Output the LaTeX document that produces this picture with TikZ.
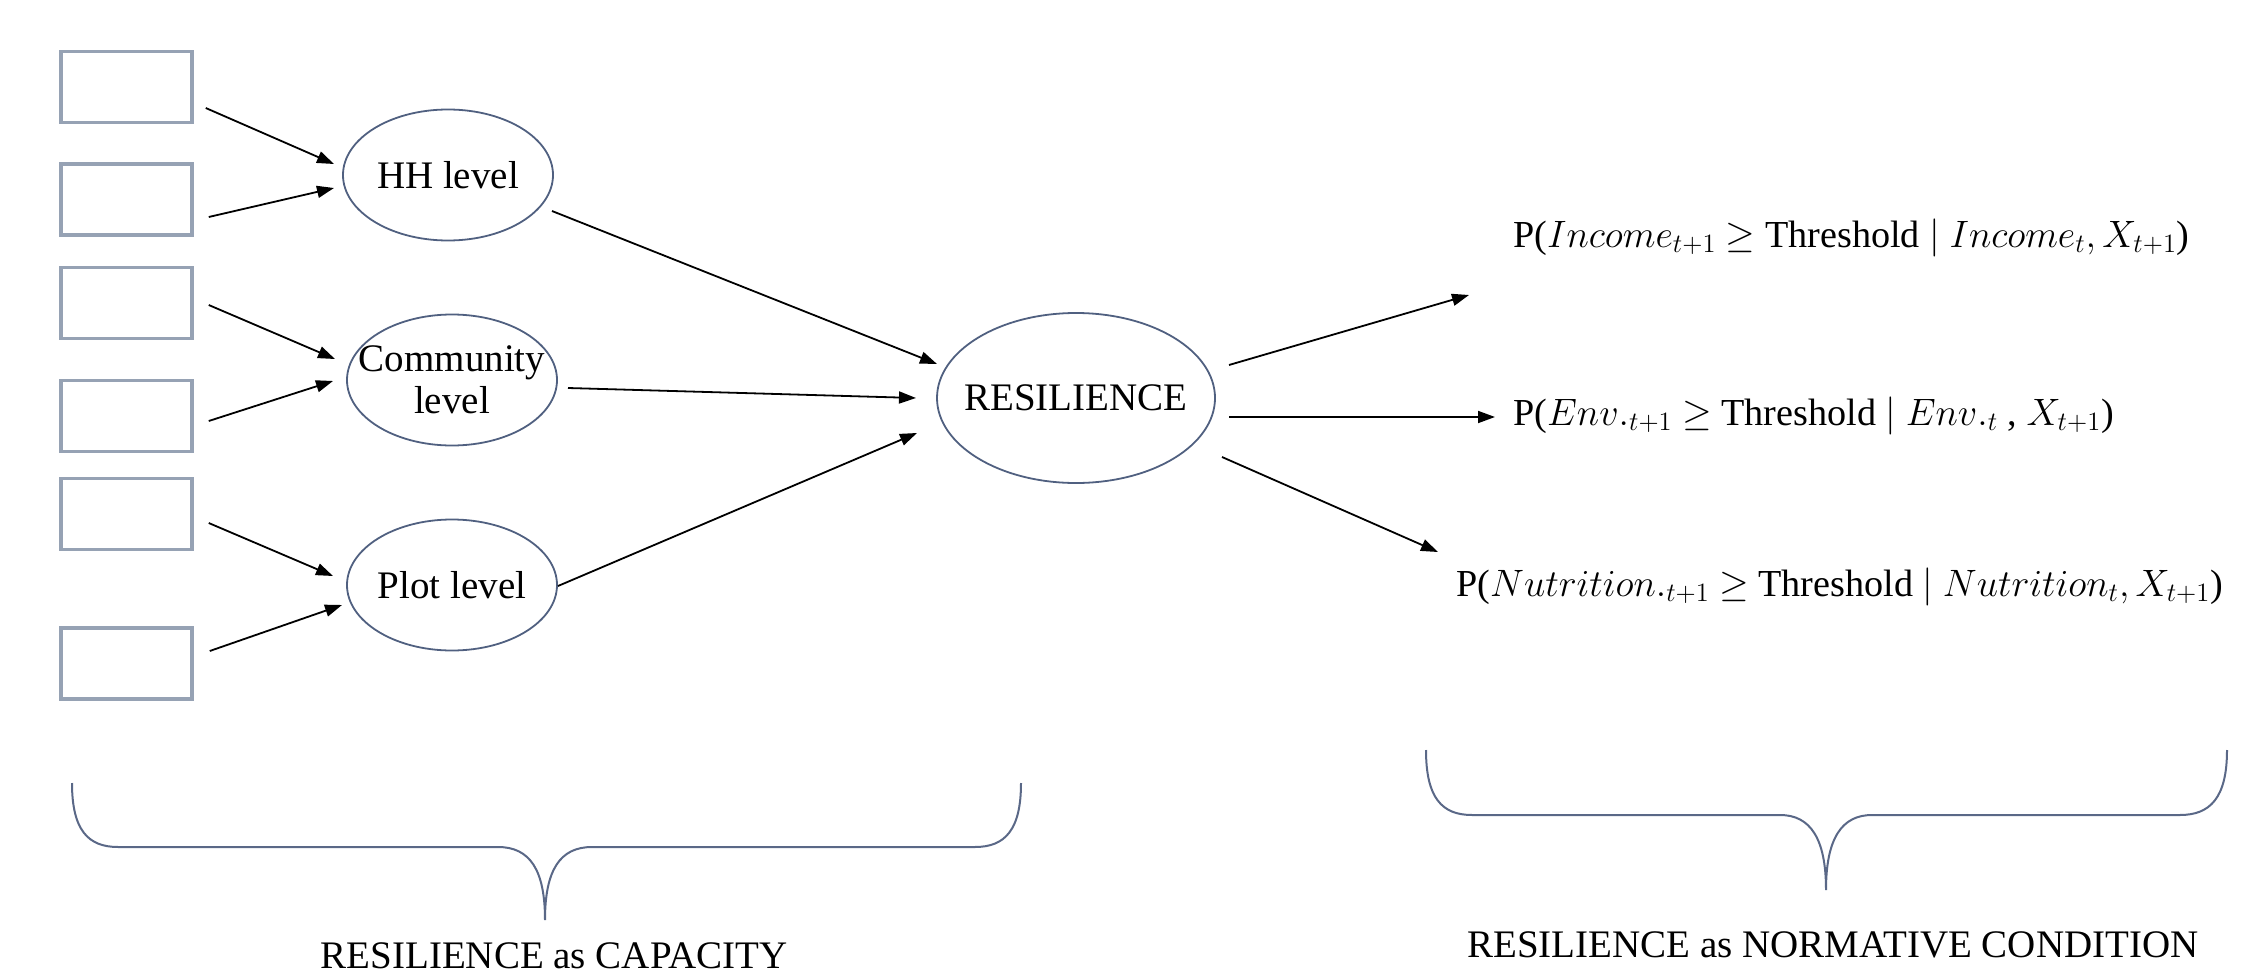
\documentclass[tikz,border=0pt]{standalone}
\usepackage{fontspec}
\setmainfont{Liberation Serif}
\DeclareMathSizes{20.74}{20.74}{14.4}{10}
\newcommand{\formtext}[1]{\scalebox{1.84}{\fontsize{20.74}{24}\selectfont #1}}
\usetikzlibrary{arrows.meta,calc,shapes.geometric}
\definecolor{boxc}{RGB}{150,162,180}
\definecolor{ellc}{RGB}{80,96,128}
\definecolor{brc}{RGB}{90,104,135}
\begin{document}
\begin{tikzpicture}[x=1pt,y=-1pt,
  every node/.style={font=\fontsize{39}{46}\selectfont},
  inbox/.style={draw=boxc,line width=3.5pt,minimum width=131pt,minimum height=71pt,inner sep=0pt},
  lev/.style={ellipse,draw=ellc,line width=1.8pt,minimum width=210pt,minimum height=131pt,inner sep=0pt,align=center},
  resn/.style={ellipse,draw=ellc,line width=1.8pt,minimum width=278pt,minimum height=170pt,inner xsep=-24pt,inner ysep=0pt},
  arr/.style={-{Triangle[length=17pt,width=12pt]},line width=1.8pt},
  brace/.style={draw=brc,line width=2pt}]
\useasboundingbox (0,0) rectangle (2254,979);

% indicator boxes
\node[inbox] (b1) at (126.5,87) {};
\node[inbox] (b2) at (126.5,199.5) {};
\node[inbox] (b3) at (126.5,303) {};
\node[inbox] (b4) at (126.5,416) {};
\node[inbox] (b5) at (126.5,514) {};
\node[inbox] (b6) at (126.5,663.5) {};

% level ellipses
\node[lev] (hh) at (448,175) {HH level};
\node[lev,inner xsep=-24pt,inner ysep=-8pt] (cl) at (452,380) {Community\\[-4pt]level};
\node[lev] (pl) at (452,585) {Plot level};
\node[resn] (res) at (1076,398) {RESILIENCE};

% outcome formulas
\node[anchor=base west,inner sep=0pt] (inc) at (1513,247) {\formtext{P($Income_{t+1}$ $\geq$ Threshold $|$ $Income_t, X_{t+1}$)}};
\node[anchor=base west,inner sep=0pt] (env) at (1513,425) {\formtext{P($Env._{t+1}$ $\geq$ Threshold $|$ $Env._t$ , $X_{t+1}$)}};
\node[anchor=base west,inner sep=0pt] (nut) at (1456,596) {\formtext{P($Nutrition._{t+1}$ $\geq$ Threshold $|$ $Nutrition_t, X_{t+1}$)}};

\coordinate (incend) at (1469,295);
\coordinate (envend) at (1495,417);
\coordinate (nutend) at (1438,552);

% arrows boxes -> levels
\draw[arr] ($(b1.east)+(12,21)$) -- ($(hh.center)+(-114,-11)$);
\draw[arr] ($(b2.east)+(15,17.5)$) -- ($(hh.center)+(-114,13)$);
\draw[arr] ($(b3.east)+(15,2)$) -- ($(cl.center)+(-117,-21)$);
\draw[arr] ($(b4.east)+(15,5)$) -- ($(cl.center)+(-119,1)$);
\draw[arr] ($(b5.east)+(15,9)$) -- ($(pl.center)+(-119,-9)$);
\draw[arr] ($(b6.east)+(16,-12.5)$) -- ($(pl.center)+(-110,20)$);

% levels -> resilience
\draw[arr] ($(hh.center)+(104,36)$) -- ($(res.center)+(-139,-34)$);
\draw[arr] ($(cl.center)+(116,8)$) -- ($(res.center)+(-160,0)$);
\draw[arr] ($(pl.center)+(106,1)$) -- ($(res.center)+(-159,35)$);

% resilience -> outcomes
\draw[arr] ($(res.center)+(153,-33)$) -- (incend);
\draw[arr] ($(res.center)+(153,19)$) -- (envend);
\draw[arr] ($(res.center)+(146,59)$) -- (nutend);

% braces
\draw[brace] (72,783) .. controls (72,830) and (88,847) .. (118,847) -- (498,847)
  .. controls (530,847) and (545,870) .. (545,920)
  .. controls (545,870) and (560,847) .. (592,847) -- (975,847)
  .. controls (1005,847) and (1021,830) .. (1021,783);
\draw[brace] (1426,750) .. controls (1426,798) and (1442,815) .. (1472,815) -- (1780,815)
  .. controls (1810,815) and (1826,838) .. (1826,890)
  .. controls (1826,838) and (1842,815) .. (1872,815) -- (2180,815)
  .. controls (2210,815) and (2227,798) .. (2227,750);

% captions
\node[anchor=base] (cap) at (554,968) {RESILIENCE as CAPACITY};
\node[anchor=base] (norm) at (1833,957) {RESILIENCE as NORMATIVE CONDITION};
\end{tikzpicture}
\end{document}
